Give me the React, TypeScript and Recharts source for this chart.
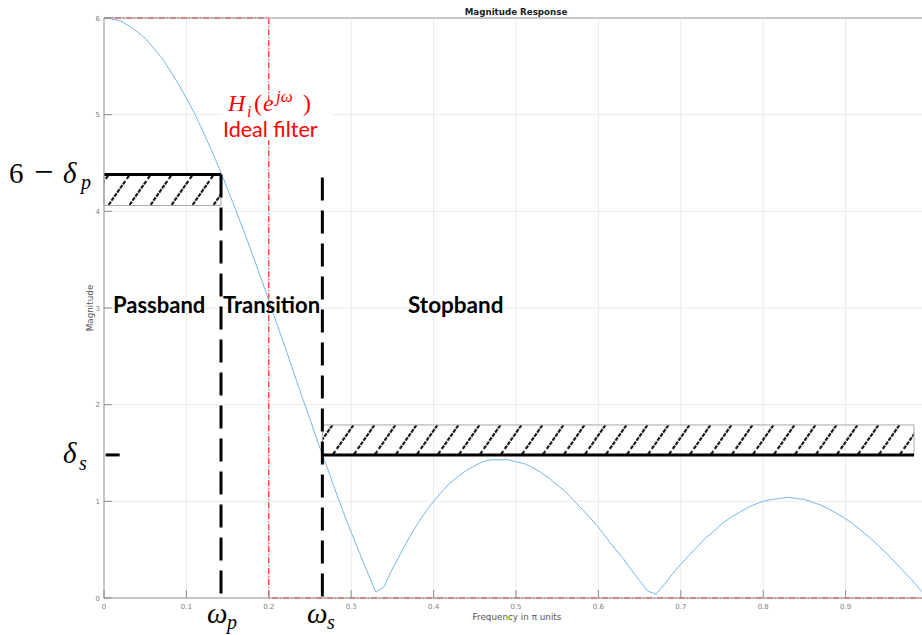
import React from 'react'
import {
  CartesianGrid,
  Line,
  LineChart,
  ReferenceArea,
  ReferenceLine,
  XAxis,
  YAxis,
} from 'recharts'

// frequency in pi units
const freq = [
  0, 0.01, 0.02, 0.03, 0.04, 0.05, 0.06, 0.07, 0.08, 0.09,
  0.1, 0.11, 0.12, 0.13, 0.14, 0.15, 0.16, 0.17, 0.18, 0.19,
  0.2, 0.21, 0.22, 0.23, 0.24, 0.25, 0.26, 0.27, 0.28, 0.29,
  0.3, 0.31, 0.32, 0.33, 0.34, 0.35, 0.36, 0.37, 0.38, 0.39,
  0.4, 0.41, 0.42, 0.43, 0.44, 0.45, 0.46, 0.47, 0.48, 0.49,
  0.5, 0.51, 0.52, 0.53, 0.54, 0.55, 0.56, 0.57, 0.58, 0.59,
  0.6, 0.61, 0.62, 0.63, 0.64, 0.65, 0.66, 0.67, 0.68, 0.69,
  0.7, 0.71, 0.72, 0.73, 0.74, 0.75, 0.76, 0.77, 0.78, 0.79,
  0.8, 0.81, 0.82, 0.83, 0.84, 0.85, 0.86, 0.87, 0.88, 0.89,
  0.9, 0.91, 0.92, 0.93, 0.94, 0.95, 0.96, 0.97, 0.98, 0.99,
  1,
]

const magnitude = [
  6.0, 5.99, 5.97, 5.92, 5.86, 5.79, 5.69, 5.59, 5.46, 5.32,
  5.17, 5.01, 4.83, 4.64, 4.44, 4.23, 4.01, 3.79, 3.56, 3.32,
  3.08, 2.83, 2.59, 2.34, 2.09, 1.85, 1.6, 1.37, 1.13, 0.9,
  0.68, 0.47, 0.26, 0.06, 0.12, 0.3, 0.46, 0.62, 0.76, 0.89,
  1.0, 1.1, 1.19, 1.26, 1.32, 1.37, 1.41, 1.43, 1.43, 1.43,
  1.41, 1.39, 1.35, 1.3, 1.24, 1.17, 1.1, 1.01, 0.92, 0.83,
  0.73, 0.62, 0.51, 0.41, 0.29, 0.18, 0.07, 0.04, 0.14, 0.25,
  0.35, 0.44, 0.53, 0.62, 0.69, 0.77, 0.83, 0.88, 0.93, 0.97,
  1.0, 1.02, 1.03, 1.04, 1.03, 1.02, 0.99, 0.96, 0.92, 0.87,
  0.82, 0.76, 0.69, 0.62, 0.54, 0.46, 0.37, 0.28, 0.19, 0.09,
  0.0,
]

// ideal low-pass filter outline
const idealFreq = [0, 0.2, 0.2, 1]
const idealMag = [6, 6, 0, 0]

const xTicks = [0, 0.1, 0.2, 0.3, 0.4, 0.5, 0.6, 0.7, 0.8, 0.9]
const yTicks = [0, 1, 2, 3, 4, 5, 6]

// tolerance scheme
const wp = 0.142
const ws = 0.265
const passTop = 4.38
const passBottom = 4.06
const stopLevel = 1.48
const stopTop = 1.79
const stopEnd = 0.983

const magData = freq.map((f, i) => ({ f, mag: magnitude[i] }))
const idealData = idealFreq.map((f, i) => ({ f, ideal: idealMag[i] }))

const tickFont = 'DejaVu Sans'
const tickColor = '#808080'
const markColor = '#8c8c8c'

const BottomTick = (props: any) => {
  const { x, y, payload } = props
  return (
    <g>
      <line x1={x} x2={x} y1={y} y2={y - 8} stroke={markColor} />
      <text x={x} y={y + 11} textAnchor="middle" fontSize={7} fontFamily={tickFont} fill={tickColor} stroke="none">
        {String(payload.value)}
      </text>
    </g>
  )
}

const TopTick = (props: any) => {
  const { x, y } = props
  return <line x1={x} x2={x} y1={y} y2={y + 8} stroke={markColor} />
}

const LeftTick = (props: any) => {
  const { x, y, payload } = props
  return (
    <g>
      <line x1={x} x2={x + 8} y1={y} y2={y} stroke={markColor} />
      <text x={x - 4} y={y + 2.5} textAnchor="end" fontSize={7} fontFamily={tickFont} fill={tickColor} stroke="none">
        {String(payload.value)}
      </text>
    </g>
  )
}

const serif = 'Liberation Serif'

function Annotations() {
  return (
    <svg
      width={922}
      height={635}
      style={{ position: 'absolute', left: 0, top: 0, pointerEvents: 'none' }}
    >
      {/* matlab titles */}
      <text x={516} y={15} textAnchor="middle" fontSize={8.7} fontWeight="bold" fontFamily={tickFont} fill="#222">
        Magnitude Response
      </text>
      <text x={517} y={620} textAnchor="middle" fontSize={8.8} fontFamily={tickFont} fill="#555">
        Frequency in π units
      </text>
      <text
        x={93}
        y={308}
        textAnchor="middle"
        fontSize={8.8}
        fontFamily={tickFont}
        fill="#555"
        transform="rotate(-90 93 308)"
      >
        Magnitude
      </text>

      {/* ideal filter label */}
      <rect x={222} y={100} width={110} height={40} fill="#fff" />
      <text fontFamily={serif} fill="#ff0000" fontSize={24}>
        <tspan x={228} y={111} fontStyle="italic">H</tspan>
        <tspan x={247} y={117} fontSize={16} fontStyle="italic">i</tspan>
        <tspan x={254} y={111}>(</tspan>
        <tspan x={263} y={111} fontStyle="italic">e</tspan>
        <tspan x={276} y={102} fontSize={17} fontStyle="italic">jω</tspan>
        <tspan x={303} y={111}>)</tspan>
      </text>
      <text x={223} y={137} fontFamily="Lato" fontSize={21.5} fill="#ff0000">
        Ideal filter
      </text>

      {/* band labels */}
      <text x={113} y={313} fontFamily="Lato" fontWeight="bold" fontSize={22} fill="#000">
        Passband
      </text>
      <text x={223} y={313} fontFamily="Lato" fontWeight="bold" fontSize={22} fill="#000">
        Transition
      </text>
      <text x={408} y={313} fontFamily="Lato" fontWeight="bold" fontSize={22.5} fill="#000">
        Stopband
      </text>

      {/* tolerance labels */}
      <text fontFamily={serif} fontSize={29} fill="#000">
        <tspan x={9} y={183}>6</tspan>
        <tspan x={34} y={183} fontSize={34}>−</tspan>
        <tspan x={63} y={183} fontStyle="italic">δ</tspan>
        <tspan x={81} y={189} fontSize={20} fontStyle="italic">p</tspan>
      </text>
      <text fontFamily={serif} fontSize={29} fill="#000">
        <tspan x={63} y={463} fontStyle="italic">δ</tspan>
        <tspan x={79} y={470} fontSize={20} fontStyle="italic">s</tspan>
      </text>
      <text fontFamily={serif} fontSize={29} fill="#000">
        <tspan x={207} y={623} fontStyle="italic">ω</tspan>
        <tspan x={227} y={629} fontSize={20} fontStyle="italic">p</tspan>
      </text>
      <text fontFamily={serif} fontSize={29} fill="#000">
        <tspan x={307} y={623} fontStyle="italic">ω</tspan>
        <tspan x={327} y={629} fontSize={20} fontStyle="italic">s</tspan>
      </text>
    </svg>
  )
}

export default function App() {
  return (
    <div
      style={{
        position: 'absolute',
        left: 0,
        top: 0,
        width: 922,
        height: 635,
        overflow: 'hidden',
        background: '#fff',
      }}
    >
      <LineChart
        width={932}
        height={635}
        margin={{ top: 0, right: 4, bottom: 7, left: 44 }}
      >
        <defs>
          <pattern id="hatch" patternUnits="userSpaceOnUse" width={21} height={30}>
            <line
              x1={-2.1}
              y1={33}
              x2={23.1}
              y2={-3}
              stroke="#1a1a1a"
              strokeWidth={2.2}
              strokeDasharray="4 1"
            />
          </pattern>
        </defs>
        <CartesianGrid stroke="#ebebeb" />
        <XAxis
          dataKey="f"
          type="number"
          domain={[0, 1]}
          ticks={xTicks}
          interval={0}
          height={30}
          tickSize={0}
          tickMargin={0}
          tickLine={false}
          axisLine={{ stroke: '#9a9a9a' }}
          tick={(p: any) => <BottomTick {...p} />}
          allowDataOverflow
        />
        <XAxis
          xAxisId="top"
          orientation="top"
          dataKey="f"
          type="number"
          domain={[0, 1]}
          ticks={xTicks}
          interval={0}
          height={18}
          tickSize={0}
          tickMargin={0}
          tickLine={false}
          axisLine={{ stroke: '#9a9a9a' }}
          tick={(p: any) => <TopTick {...p} />}
        />
        <YAxis
          type="number"
          domain={[0, 6]}
          ticks={yTicks}
          interval={0}
          width={60}
          tickSize={0}
          tickMargin={0}
          tickLine={false}
          axisLine={{ stroke: '#9a9a9a' }}
          tick={(p: any) => <LeftTick {...p} />}
        />

        <ReferenceArea
          x1={0}
          x2={wp}
          y1={passBottom}
          y2={passTop}
          fill="url(#hatch)"
          fillOpacity={1}
          stroke="#a8a8a8"
        />
        <ReferenceArea
          x1={ws}
          x2={stopEnd}
          y1={stopLevel}
          y2={stopTop}
          fill="url(#hatch)"
          fillOpacity={1}
          stroke="#a8a8a8"
        />

        <Line
          data={idealData}
          dataKey="ideal"
          type="linear"
          stroke="#ff0000"
          strokeWidth={1}
          strokeDasharray="6 2 1 2"
          dot={false}
          activeDot={false}
          isAnimationActive={false}
        />
        <Line
          data={magData}
          dataKey="mag"
          type="linear"
          stroke="#7ab6e2"
          strokeWidth={1}
          dot={false}
          activeDot={false}
          isAnimationActive={false}
        />

        <ReferenceLine
          segment={[{ x: 0, y: passTop }, { x: wp, y: passTop }]}
          stroke="#000"
          strokeWidth={3}
        />
        <ReferenceLine
          segment={[{ x: wp, y: passTop }, { x: wp, y: 0 }]}
          stroke="#000"
          strokeWidth={3}
          strokeDasharray="23 10"
        />
        <ReferenceLine
          segment={[{ x: ws, y: 4.35 }, { x: ws, y: 0 }]}
          stroke="#000"
          strokeWidth={3}
          strokeDasharray="23 10"
        />
        <ReferenceLine
          segment={[{ x: ws, y: stopLevel }, { x: stopEnd, y: stopLevel }]}
          stroke="#000"
          strokeWidth={3}
        />
        <ReferenceLine
          segment={[{ x: 0.002, y: stopLevel }, { x: 0.019, y: stopLevel }]}
          stroke="#000"
          strokeWidth={3}
        />
      </LineChart>
      <Annotations />
    </div>
  )
}
